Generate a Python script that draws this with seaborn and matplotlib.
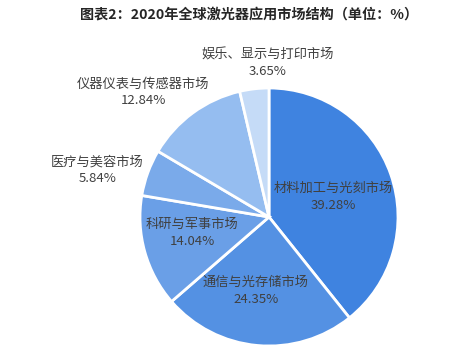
import numpy as np
import matplotlib
matplotlib.use("Agg")
import matplotlib.pyplot as plt
import seaborn as sns

# data
categories = ["材料加工与光刻市场", "通信与光存储市场", "科研与军事市场",
              "医疗与美容市场", "仪器仪表与传感器市场", "娱乐、显示与打印市场"]
shares = [39.28, 24.35, 14.04, 5.84, 12.84, 3.65]
colors = ["#3F83E0", "#5491E3", "#6A9FE7", "#7AAAEA", "#95BDF0", "#C5DBF7"]
# label distance from centre (in radii) and small angle nudge (deg)
label_dist = [0.52, 0.58, 0.61, 1.38, 1.37, 1.19]
label_nudge = [-2, -5, -4, 5, 9, -6]

sns.set_theme(style="white")
plt.rcParams["font.family"] = ["Noto Sans CJK SC", "DejaVu Sans"]

fig = plt.figure(figsize=(4.75, 3.62), dpi=100)
ax = fig.add_axes([0, 0, 1, 1])

wedges, _ = ax.pie(shares, colors=colors, startangle=90, counterclock=False,
                   radius=1, wedgeprops=dict(edgecolor="white", linewidth=2))

# 1 unit = 129 px, centre at (269, 217) px from top-left
ax.set_xlim(-269 / 129, (475 - 269) / 129)
ax.set_ylim(-(362 - 217) / 129, 217 / 129)
ax.set_aspect("auto")
ax.axis("off")

for w, cat, val, d, nd in zip(wedges, categories, shares, label_dist, label_nudge):
    ang = np.deg2rad((w.theta1 + w.theta2) / 2 + nd)
    x, y = d * np.cos(ang), d * np.sin(ang)
    ax.text(x, y + 0.065, cat, ha="center", va="center", fontsize=9.5, color="#404040")
    ax.text(x, y - 0.065, f"{val:.2f}%", ha="center", va="center", fontsize=9.5, color="#404040")

fig.text(249 / 475, 1 - 14 / 362, "图表2：2020年全球激光器应用市场结构（单位：%）",
         ha="center", va="center", fontsize=10.2, fontweight="bold", color="#262626")

fig.savefig("out.png", dpi=100)
